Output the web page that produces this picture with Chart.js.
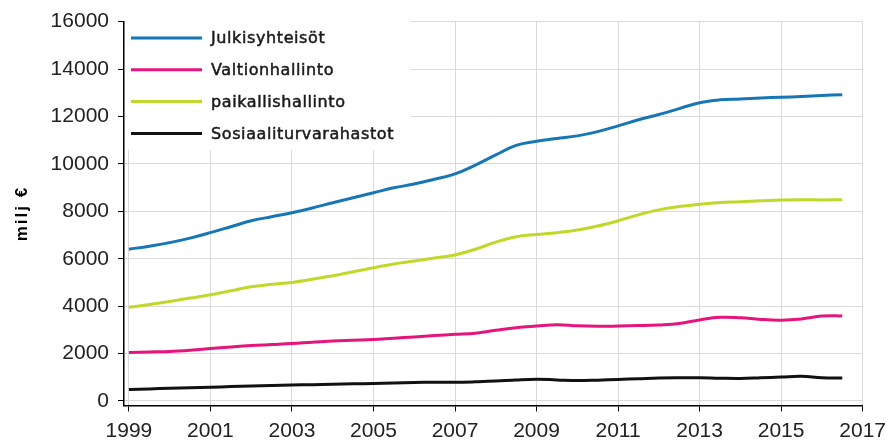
<!DOCTYPE html>
<html>
<head>
<meta charset="utf-8">
<script src="https://cdn.jsdelivr.net/npm/chart.js@4"></script>
<style>
  body { margin: 0; background: #fff; }
  #c { display: block; }
</style>
</head>
<body>
<canvas id="c" width="893" height="448"></canvas>
<script>
// puolivuosittain 1999 - 2016.5
const vuodet = [1999,1999.5,2000,2000.5,2001,2001.5,2002,2002.5,2003,2003.5,2004,2004.5,2005,2005.5,2006,2006.5,2007,2007.5,2008,2008.5,2009,2009.5,2010,2010.5,2011,2011.5,2012,2012.5,2013,2013.5,2014,2014.5,2015,2015.5,2016,2016.5];

const julkisyhteisot = [6400,6530,6680,6870,7100,7350,7600,7770,7940,8140,8360,8570,8780,8990,9150,9350,9575,9950,10380,10780,10950,11070,11180,11360,11600,11860,12080,12330,12580,12700,12740,12780,12810,12840,12880,12920];
const valtionhallinto = [2050,2070,2090,2140,2210,2280,2340,2380,2420,2480,2530,2560,2590,2650,2700,2760,2810,2860,2980,3090,3160,3220,3170,3150,3160,3180,3210,3270,3420,3530,3510,3440,3410,3460,3580,3590];
const paikallishallinto = [3950,4070,4200,4340,4480,4650,4820,4920,5000,5130,5280,5450,5620,5780,5900,6030,6160,6400,6700,6930,7020,7100,7210,7380,7600,7850,8060,8200,8300,8370,8400,8440,8480,8490,8480,8490];
const sosiaaliturva = [480,510,540,560,580,610,630,650,670,690,710,725,740,760,780,790,790,810,840,890,920,890,860,880,910,940,970,980,980,960,950,980,1010,1040,980,970];

const nimet = ['Julkisyhteisöt', 'Valtionhallinto', 'paikallishallinto', 'Sosiaaliturvarahastot'];
const varit = ['#1776b6', '#e6157c', '#c0d82a', '#111111'];

const xTicks = [1999,2001,2003,2005,2007,2009,2011,2013,2015,2017];
const yTicks = [0,2000,4000,6000,8000,10000,12000,14000,16000];
const yOtsikko = 'milj €';

function pisteet(arr) {
  return arr.map((v, i) => ({x: vuodet[i], y: v}));
}

const sarjat = [julkisyhteisot, valtionhallinto, paikallishallinto, sosiaaliturva];

// selite piirretaan kuva-alueen sisaan vasempaan ylakulmaan
const selite = {
  id: 'selite',
  beforeDatasetsDraw(chart) {
    const ctx = chart.ctx;
    const a = chart.chartArea;
    ctx.save();
    ctx.fillStyle = '#fff';
    ctx.fillRect(a.left + 1, a.top - 2, 411 - a.left - 1, 150 - a.top + 2);
    chart.data.datasets.forEach((ds, i) => {
      const y = 38 + i * 31.8;
      ctx.strokeStyle = ds.borderColor;
      ctx.lineWidth = 3;
      ctx.beginPath();
      ctx.moveTo(131, y);
      ctx.lineTo(202, y);
      ctx.stroke();
      ctx.fillStyle = '#1a1a1a';
      ctx.strokeStyle = '#1a1a1a';
      ctx.lineWidth = 0.5;
      ctx.font = '16px "DejaVu Sans"';
      ctx.letterSpacing = '0.6px';
      ctx.textBaseline = 'middle';
      ctx.fillText(ds.label, 211, y + 1);
      ctx.strokeText(ds.label, 211, y + 1);
    });
    ctx.restore();
  },
  afterDraw(chart) {
    // y-akselin otsikko harvennettuna
    const ctx = chart.ctx;
    const a = chart.chartArea;
    ctx.save();
    ctx.translate(22, (a.top + a.bottom) / 2);
    ctx.rotate(-Math.PI / 2);
    ctx.fillStyle = '#000';
    ctx.font = 'bold 17px "Liberation Sans"';
    ctx.letterSpacing = '2px';
    ctx.textAlign = 'center';
    ctx.textBaseline = 'middle';
    ctx.fillText(yOtsikko, 0, 0);
    ctx.restore();
  }
};

new Chart(document.getElementById('c'), {
  type: 'line',
  data: {
    datasets: sarjat.map((s, i) => ({
      label: nimet[i],
      data: pisteet(s),
      borderColor: varit[i],
      borderWidth: 3,
      pointRadius: 0,
      tension: 0.4,
      fill: false
    }))
  },
  options: {
    responsive: false,
    animation: false,
    layout: { padding: { top: 19, right: 23, left: 0, bottom: 0 } },
    plugins: { legend: { display: false }, tooltip: { enabled: false } },
    scales: {
      x: {
        type: 'linear',
        min: 1998.88,
        max: 2017,
        afterBuildTicks: s => { s.ticks = xTicks.map(v => ({value: v})); },
        afterFit: s => { s.height = 42.5; },
        grid: { color: '#dadada', tickColor: '#000', tickLength: 6 },
        border: { color: '#000', width: 1.5 },
        ticks: {
          color: '#222',
          font: { family: 'Liberation Sans', size: 21 },
          padding: 7,
          maxRotation: 0,
          callback: v => String(v)
        }
      },
      y: {
        min: -190,
        max: 16000,
        afterBuildTicks: s => { s.ticks = yTicks.map(v => ({value: v})); },
        afterFit: s => { s.width = 124; },
        grid: { color: '#dadada', tickColor: '#000', tickLength: 6 },
        border: { color: '#000', width: 1.5 },
        ticks: {
          color: '#222',
          font: { family: 'Liberation Sans', size: 21 },
          padding: 9,
          callback: v => String(v)
        }
      }
    }
  },
  plugins: [selite]
});
</script>
</body>
</html>
